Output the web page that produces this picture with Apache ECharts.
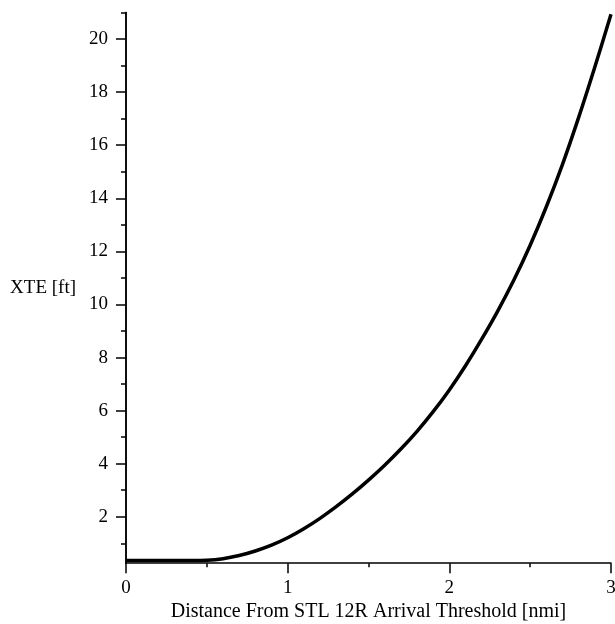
<!DOCTYPE html>
<html>
<head>
<meta charset="utf-8">
<script src="https://cdn.jsdelivr.net/npm/echarts@6/dist/echarts.min.js"></script>
<style>
html,body{margin:0;padding:0;background:#fff;}
#chart{width:615px;height:624px;}
</style>
</head>
<body>
<div id="chart"></div>
<script>
var distance = [0, 0.1, 0.2, 0.3, 0.4, 0.5, 0.6, 0.7, 0.8, 0.9, 1.0, 1.1, 1.2, 1.3, 1.4, 1.5, 1.6, 1.7, 1.8, 1.9, 2.0, 2.1, 2.2, 2.3, 2.4, 2.5, 2.6, 2.7, 2.8, 2.9, 3.0];
var xte = [0.35, 0.35, 0.35, 0.35, 0.35, 0.36, 0.42, 0.54, 0.71, 0.93, 1.21, 1.55, 1.94, 2.38, 2.86, 3.38, 3.94, 4.55, 5.22, 5.96, 6.78, 7.69, 8.69, 9.76, 10.93, 12.23, 13.68, 15.28, 17.05, 18.95, 20.93];
var yMajorTicks = [2, 4, 6, 8, 10, 12, 14, 16, 18, 20];
var yMinorTicks = [1, 3, 5, 7, 9, 11, 13, 15, 17, 19, 21];
var xTitle = 'Distance From STL 12R Arrival Threshold [nmi]';
var yTitle = 'XTE [ft]';

var font = 'Liberation Serif';
var chart = echarts.init(document.getElementById('chart'), null, {renderer: 'canvas'});
var points = distance.map(function (d, i) { return [d, xte[i]]; });

chart.setOption({
  animation: false,
  backgroundColor: '#ffffff',
  grid: {left: 126, right: 4, top: 12.5, bottom: 60.8, containLabel: false, outerBoundsMode: 'none'},
  xAxis: {
    type: 'value', min: 0, max: 3, interval: 1,
    name: xTitle, nameLocation: 'middle', nameGap: 36,
    nameTextStyle: {fontFamily: font, fontSize: 20, color: '#000'},
    axisLine: {onZero: false, lineStyle: {color: '#000', width: 1.5}},
    axisTick: {show: true, inside: false, length: 10, lineStyle: {color: '#000', width: 1.5}},
    minorTick: {show: true, splitNumber: 2, length: 4, lineStyle: {color: '#000', width: 1.5}},
    axisLabel: {fontFamily: font, fontSize: 19, color: '#000', margin: 15},
    splitLine: {show: false}
  },
  yAxis: [{
    type: 'value', min: 0.25, max: 21, position: 'left',
    name: yTitle, nameLocation: 'middle', nameGap: 50, nameRotate: 0,
    nameTextStyle: {fontFamily: font, fontSize: 19, color: '#000', align: 'right', verticalAlign: 'middle'},
    axisLine: {show: true, lineStyle: {color: '#000', width: 1.5}},
    axisTick: {show: true, inside: false, length: 10, customValues: yMajorTicks, lineStyle: {color: '#000', width: 1.5}},
    axisLabel: {fontFamily: font, fontSize: 19, color: '#000', margin: 18, customValues: yMajorTicks},
    splitLine: {show: false}
  }, {
    type: 'value', min: 0.25, max: 21, position: 'left', offset: 0,
    axisLine: {show: true, lineStyle: {color: '#000', width: 1.5}},
    axisTick: {show: true, inside: false, length: 5, customValues: yMinorTicks, lineStyle: {color: '#000', width: 1.5}},
    axisLabel: {show: false},
    splitLine: {show: false}
  }],
  series: [{
    type: 'line', data: points, yAxisIndex: 0, smooth: 0.3,
    showSymbol: false, symbol: 'none',
    lineStyle: {color: '#000', width: 3.5},
    clip: false
  }]
});
</script>
</body>
</html>
